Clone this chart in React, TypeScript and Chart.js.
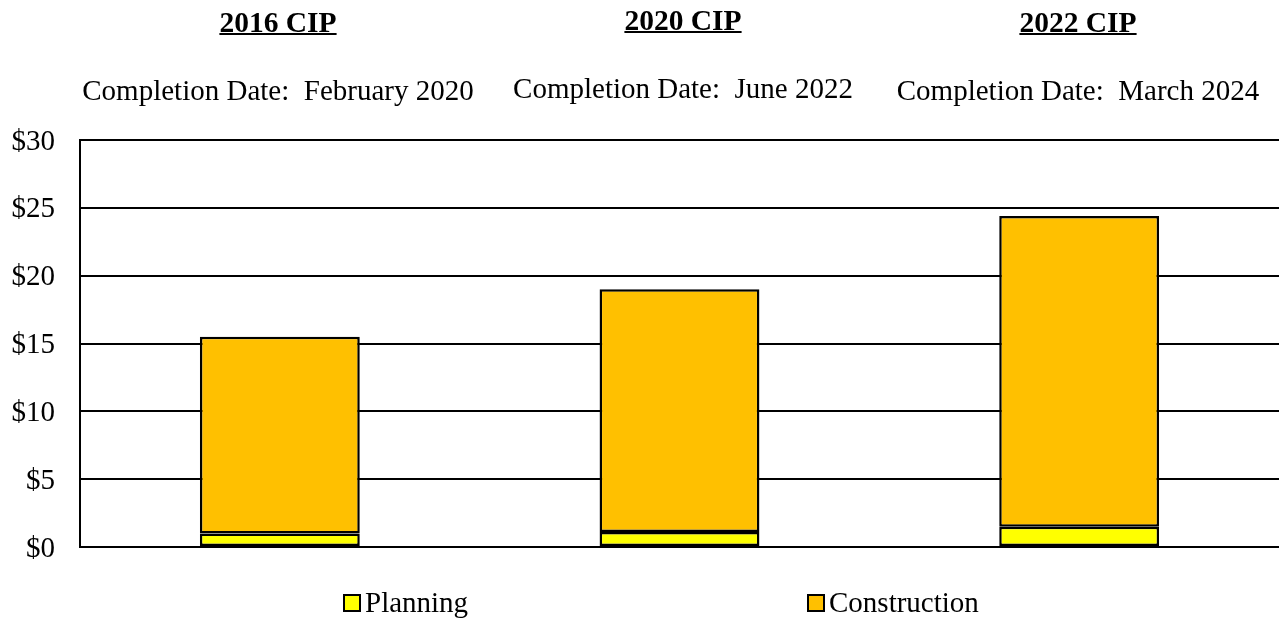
import React, { useEffect, useRef } from "react";
import { Chart, registerables } from "chart.js";

Chart.register(...registerables);

const categories = ["2016 CIP", "2020 CIP", "2022 CIP"];
const completionDates = [
  "Completion Date:  February 2020",
  "Completion Date:  June 2022",
  "Completion Date:  March 2024",
];
const planningValues = [1.0, 1.1, 1.5];
const constructionValues = [14.5, 17.9, 22.9];
const seriesNames = ["Planning", "Construction"];
const seriesColors = ["#FFFF00", "#FFC000"];
const yTickValues = [0, 5, 10, 15, 20, 25, 30];

const FONT = '"Liberation Serif", "Times New Roman", serif';

// Layout positions (pixels)
const titleCenters = [278, 683, 1078];
const titleTops = [8, 6, 8];
const dateTops = [76, 74, 76];
const legendBoxLefts = [343, 807];

export default function App() {
  const ref = useRef<HTMLCanvasElement | null>(null);

  useEffect(() => {
    document.body.style.margin = "0";
    const canvas = ref.current;
    if (!canvas) return;
    const chart = new Chart(canvas, {
      type: "bar",
      data: {
        labels: categories,
        datasets: [
          {
            label: seriesNames[0],
            data: planningValues,
            backgroundColor: seriesColors[0],
            borderColor: "#000",
            borderWidth: 2.5,
            borderSkipped: false,
            categoryPercentage: 1,
            barPercentage: 0.4,
          },
          {
            label: seriesNames[1],
            data: constructionValues,
            backgroundColor: seriesColors[1],
            borderColor: "#000",
            borderWidth: 2.5,
            borderSkipped: false,
            categoryPercentage: 1,
            barPercentage: 0.4,
          },
        ],
      },
      options: {
        responsive: false,
        animation: false,
        layout: { padding: { top: 140, bottom: 71, left: 0, right: 0 } },
        plugins: {
          legend: { display: false },
          title: { display: false },
          tooltip: { enabled: false },
        },
        scales: {
          x: {
            stacked: true,
            display: false,
          },
          y: {
            stacked: true,
            min: 0,
            max: 30,
            afterFit: (scale: any) => {
              scale.width = 80;
            },
            afterBuildTicks: (scale: any) => {
              scale.ticks = yTickValues.map((v) => ({ value: v }));
            },
            grid: {
              color: "#000",
              lineWidth: 2,
              drawTicks: false,
            },
            border: { display: true, color: "#000", width: 2 },
            ticks: {
              padding: 25,
              labelOffset: 2,
              color: "#000",
              font: { family: FONT, size: 29 },
              callback: (v: any) => "$" + v,
            },
          },
        },
      },
    });
    return () => chart.destroy();
  }, []);

  const textBase: React.CSSProperties = {
    position: "absolute",
    width: 460,
    textAlign: "center",
    fontFamily: FONT,
    fontSize: 29,
    lineHeight: "29px",
    color: "#000",
    whiteSpace: "pre",
  };

  return (
    <div
      style={{
        position: "fixed",
        left: 0,
        top: 0,
        width: 1279,
        height: 618,
        background: "#fff",
        overflow: "hidden",
      }}
    >
      <canvas
        ref={ref}
        width={1279}
        height={618}
        style={{ position: "absolute", left: 0, top: 0, width: 1279, height: 618 }}
      />
      {categories.map((c, i) => (
        <div
          key={"t" + i}
          style={{
            ...textBase,
            fontSize: 29.5,
            left: titleCenters[i] - 230,
            top: titleTops[i],
            fontWeight: "bold",
            textDecoration: "underline",
            textDecorationThickness: "2px",
          }}
        >
          {c}
        </div>
      ))}
      {completionDates.map((d, i) => (
        <div
          key={"d" + i}
          style={{ ...textBase, left: titleCenters[i] - 230, top: dateTops[i] }}
        >
          {d}
        </div>
      ))}
      {seriesNames.map((n, i) => (
        <div key={"l" + i}>
          <div
            style={{
              position: "absolute",
              left: legendBoxLefts[i],
              top: 594,
              width: 14,
              height: 14,
              background: seriesColors[i],
              border: "2px solid #000",
            }}
          />
          <div
            style={{
              ...textBase,
              width: "auto",
              textAlign: "left",
              left: legendBoxLefts[i] + 22,
              top: 588,
            }}
          >
            {n}
          </div>
        </div>
      ))}
    </div>
  );
}
